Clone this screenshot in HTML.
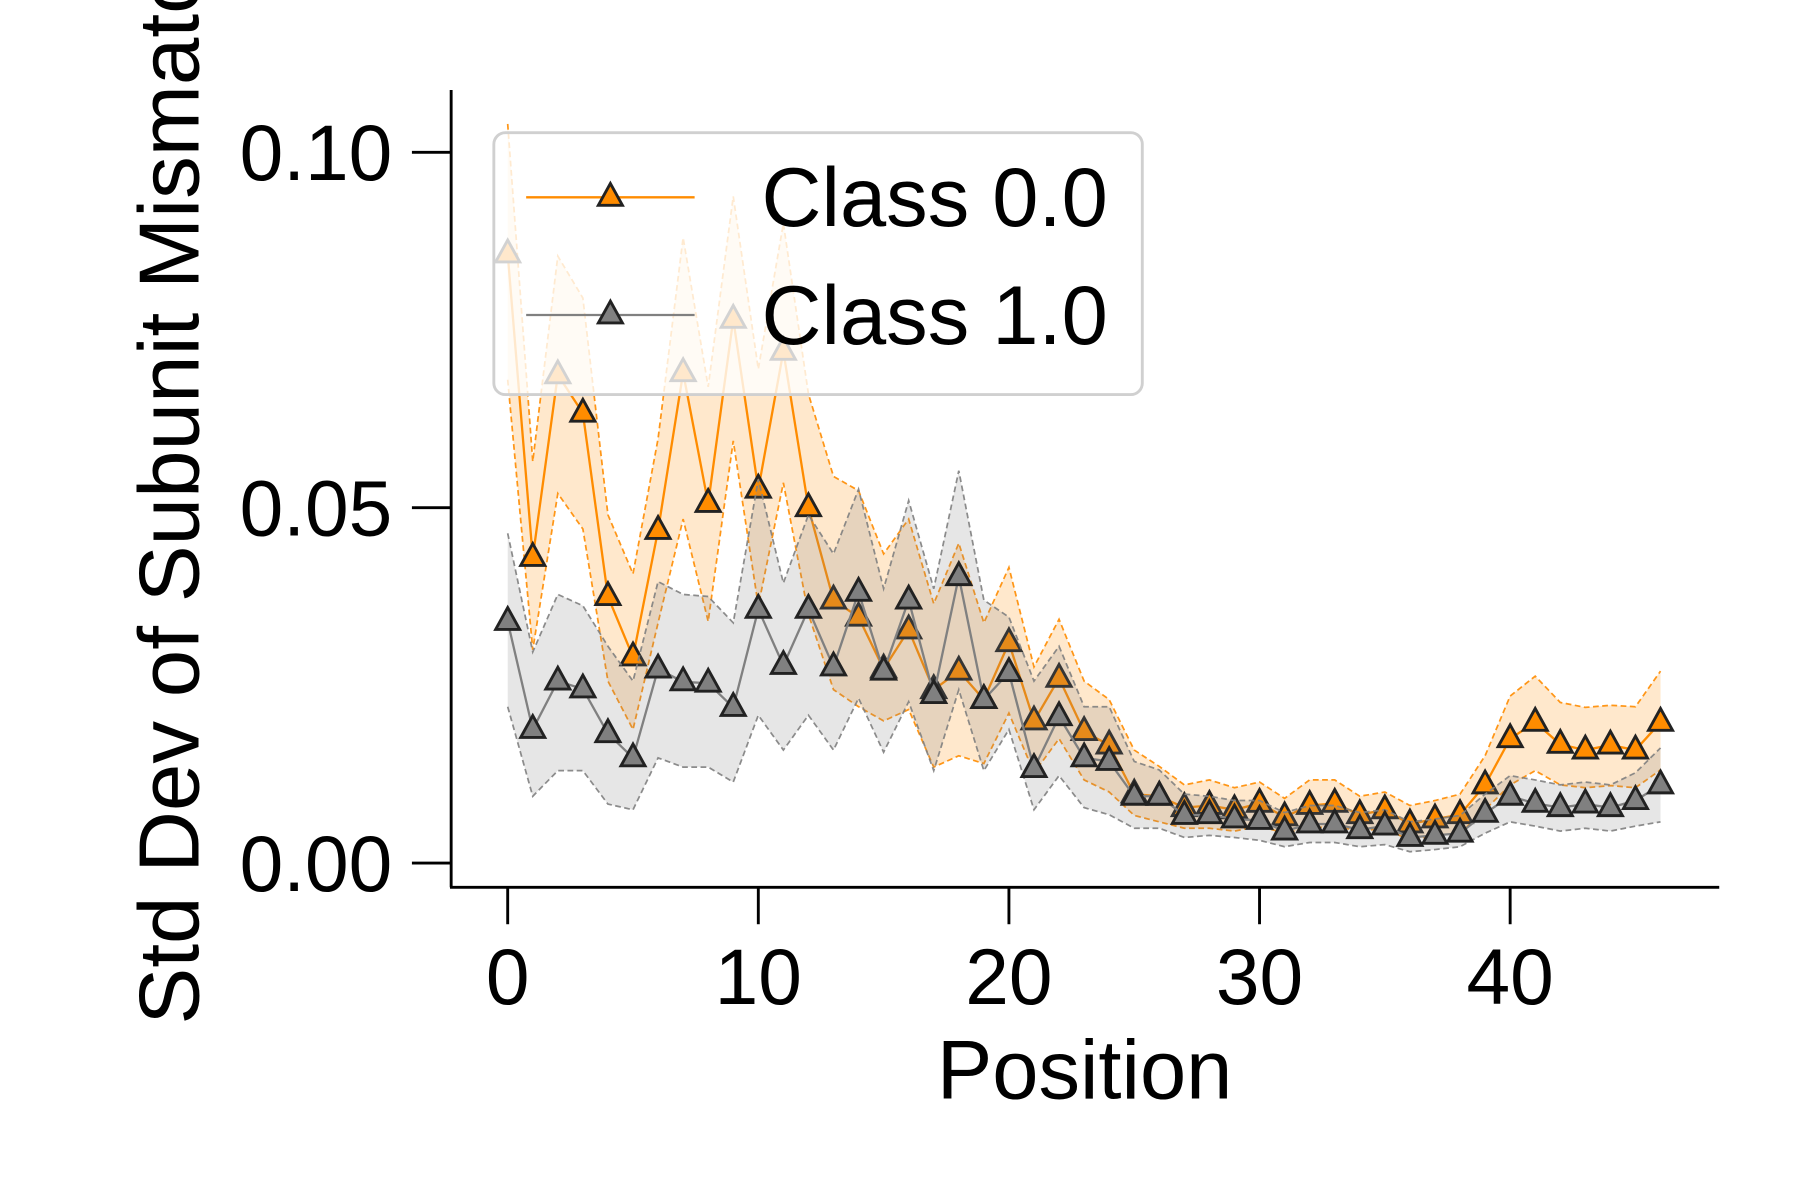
<!DOCTYPE html>
<html><head><meta charset="utf-8"><style>
html,body{margin:0;padding:0;background:#fff;width:1800px;height:1200px;overflow:hidden}
svg{display:block}
text{font-family:"Liberation Sans",Arial,sans-serif;fill:#000}
</style></head><body>
<svg id="chart" width="1800" height="1200" viewBox="0 0 1560 1040" xmlns="http://www.w3.org/2000/svg">
<g id="plot"></g>
<g id="axes"></g>
<g id="legend"></g>
</svg>
<script>
const positions = Array.from({length:47},(_,i)=>i);
const class0Mean=[0.0857,0.043,0.0687,0.0633,0.0375,0.029,0.0468,0.069,0.0506,0.0765,0.0526,0.072,0.050,0.037,0.0346,0.0273,0.0328,0.0244,0.027,0.023,0.031,0.020,0.026,0.0185,0.0166,0.0097,0.0094,0.0078,0.0081,0.0075,0.0084,0.0065,0.0081,0.0084,0.0068,0.0075,0.0055,0.0062,0.0068,0.011,0.0175,0.0198,0.0167,0.0159,0.0166,0.0159,0.0198];
const class0Upper=[0.104,0.0565,0.0854,0.0795,0.049,0.0407,0.0597,0.088,0.067,0.0938,0.0695,0.090,0.066,0.0544,0.0524,0.0435,0.0484,0.0365,0.045,0.0338,0.0416,0.0276,0.0343,0.0256,0.023,0.0159,0.0136,0.011,0.0117,0.0106,0.0114,0.0091,0.0117,0.0117,0.0094,0.010,0.0081,0.0088,0.0097,0.0151,0.0235,0.0263,0.0226,0.0219,0.0222,0.022,0.027];
const class0Lower=[0.068,0.030,0.052,0.047,0.0256,0.0188,0.0338,0.0484,0.034,0.0594,0.0362,0.0535,0.035,0.0244,0.022,0.020,0.0216,0.0135,0.0151,0.014,0.0211,0.0127,0.0175,0.0117,0.010,0.0067,0.0058,0.0049,0.0049,0.0045,0.0052,0.0042,0.0049,0.0052,0.0045,0.0049,0.0032,0.0039,0.0042,0.0075,0.011,0.013,0.011,0.0106,0.0109,0.0106,0.0131];
const class1Mean=[0.034,0.0188,0.0256,0.0245,0.0182,0.0148,0.0273,0.0255,0.0253,0.0219,0.0357,0.0278,0.0357,0.0276,0.0381,0.027,0.037,0.0237,0.0403,0.023,0.0268,0.0133,0.0206,0.0148,0.0143,0.0094,0.0094,0.0067,0.0068,0.0062,0.006,0.0045,0.0055,0.0055,0.0047,0.0052,0.0036,0.0039,0.0042,0.007,0.0094,0.0084,0.0078,0.0083,0.0078,0.0088,0.011];
const class1Upper=[0.0464,0.0297,0.0378,0.0362,0.0305,0.0256,0.0396,0.0378,0.0375,0.0338,0.054,0.0394,0.049,0.0435,0.0526,0.0386,0.051,0.0386,0.0552,0.037,0.0346,0.0256,0.0305,0.022,0.022,0.0143,0.0131,0.0097,0.0094,0.0088,0.0088,0.0071,0.0081,0.0081,0.0071,0.0075,0.0058,0.0062,0.0067,0.0097,0.0123,0.0117,0.011,0.0114,0.011,0.0127,0.0162];
const class1Lower=[0.022,0.0094,0.013,0.013,0.0083,0.0075,0.0148,0.0135,0.0135,0.0114,0.0208,0.0159,0.0208,0.0159,0.0232,0.0156,0.0227,0.013,0.0244,0.013,0.0188,0.0075,0.0123,0.0078,0.0068,0.0049,0.0049,0.0036,0.0039,0.0036,0.0032,0.0023,0.0029,0.0029,0.0023,0.0026,0.0016,0.0019,0.0023,0.0042,0.0058,0.0052,0.0045,0.0049,0.0045,0.0052,0.0058];
const xTicks=[0,10,20,30,40];
const yTicks=[0,0.05,0.10];
const yTickLabels=["0.00","0.05","0.10"];
const seriesNames=["Class 0.0","Class 1.0"];

const NS="http://www.w3.org/2000/svg";
const xs=v=>440+v*21.72;
const ys=v=>748-v*6160;
function mk(tag,attrs,parent){const e=document.createElementNS(NS,tag);for(const k in attrs)e.setAttribute(k,attrs[k]);parent.appendChild(e);return e;}
const plot=document.getElementById('plot'),axes=document.getElementById('axes'),legend=document.getElementById('legend');
function pts(arr){return arr.map((v,i)=>xs(positions[i])+','+ys(v)).join(' ');}
function tri(cx,cy,s){return `${cx},${cy-s} ${cx-s*0.95},${cy+s*0.72} ${cx+s*0.95},${cy+s*0.72}`;}
function bandPts(up,lo){const a=up.map((v,i)=>xs(positions[i])+','+ys(v));const b=lo.map((v,i)=>xs(positions[i])+','+ys(v)).reverse();return a.concat(b).join(' ');}
function series(mean,up,lo,col,idx){
  const band=mk('polygon',{points:bandPts(up,lo),fill:col,'fill-opacity':0.2,stroke:'none'},plot);
  
  
  const u=mk('polyline',{points:pts(up),fill:'none',stroke:col,'stroke-width':1.5,'stroke-dasharray':'5,3','stroke-opacity':0.9},plot);
  
  
  const l=mk('polyline',{points:pts(lo),fill:'none',stroke:col,'stroke-width':1.5,'stroke-dasharray':'5,3','stroke-opacity':0.9},plot);
  
  
  const m=mk('polyline',{points:pts(mean),fill:'none',stroke:col,'stroke-width':2},plot);
  
  
  mean.forEach((v,i)=>{
    const p=mk('polygon',{points:tri(xs(positions[i]),ys(v)-1,11),fill:col,stroke:'#222','stroke-width':2.5},plot);
    
    
  });
}
series(class0Mean,class0Upper,class0Lower,'#ff8c00',0);
series(class1Mean,class1Upper,class1Lower,'#808080',1);

const ya=mk('line',{x1:391,y1:78,x2:391,y2:769,stroke:'#000','stroke-width':2.5},axes);


const xa=mk('line',{x1:390,y1:769,x2:1490,y2:769,stroke:'#000','stroke-width':2.5},axes);


xTicks.forEach(t=>{
  const tk=mk('line',{x1:xs(t),y1:769,x2:xs(t),y2:801,stroke:'#000','stroke-width':2.5},axes);
  
  
  const tl=mk('text',{x:xs(t),y:870,'text-anchor':'middle','font-size':68},axes);
  tl.textContent=String(t);
  
  
});
yTicks.forEach((t,i)=>{
  const tk=mk('line',{x1:357,y1:ys(t),x2:391,y2:ys(t),stroke:'#000','stroke-width':2.5},axes);
  
  
  const tl=mk('text',{x:340,y:ys(t)+24,'text-anchor':'end','font-size':68},axes);
  tl.textContent=yTickLabels[i];
  
  
});
const xt=mk('text',{x:940,y:952,'text-anchor':'middle','font-size':72},axes);
xt.textContent='Position';


const yt=mk('text',{x:0,y:0,'text-anchor':'start','font-size':74,transform:'translate(172,888) rotate(-90)'},axes);
yt.textContent='Std Dev of Subunit Mismatch';



const lb=mk('rect',{x:428,y:115,width:562,height:227,rx:10,fill:'#fff','fill-opacity':0.8,stroke:'#d0d0d0','stroke-width':2.5},legend);


const cols=['#ff8c00','#808080'];
[171,273].forEach((y,i)=>{
  const g=mk('g',{},legend);
  
  
  mk('line',{x1:456,y1:y,x2:602,y2:y,stroke:cols[i],'stroke-width':2},g);
  mk('polygon',{points:tri(529,y-1,11),fill:cols[i],stroke:'#222','stroke-width':2.5},g);
  const t=mk('text',{x:660,y:y+25,'font-size':72},g);
  t.textContent=seriesNames[i];
});
</script>
</body></html>
